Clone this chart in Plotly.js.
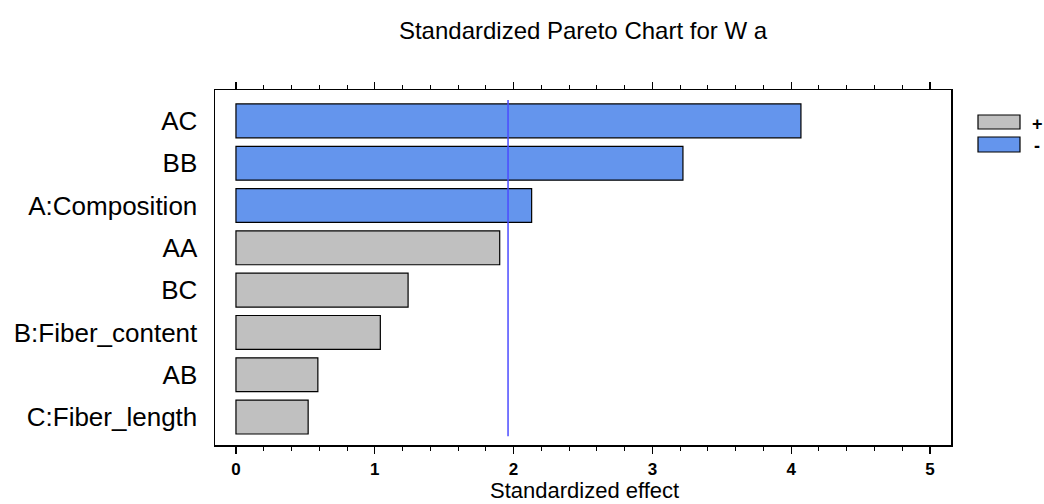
<!DOCTYPE html>
<html>
<head>
<meta charset="utf-8">
<script src="https://cdn.plot.ly/plotly-3.0.1.min.js"></script>
<style>html,body{margin:0;padding:0;background:#fff;}#chart{width:1044px;height:504px;}</style>
</head>
<body>
<div id="chart"></div>
<script>
// Effects, top to bottom
const categories = ["AC", "BB", "A:Composition", "AA", "BC", "B:Fiber_content", "AB", "C:Fiber_length"];
const effects = [4.07, 3.22, 2.13, 1.90, 1.24, 1.04, 0.59, 0.52];
const signs = ["-", "-", "-", "+", "+", "+", "+", "+"];
const criticalValue = 1.96;
const xTicks = [0, 1, 2, 3, 4, 5];
const xTitle = "Standardized effect";

const colorPos = "#C0C0C0";
const colorNeg = "#6495ED";

const traces = ["+", "-"].map(s => {
  const idx = categories.map((c, i) => i).filter(i => signs[i] === s);
  return {
    type: "bar",
    orientation: "h",
    name: s,
    y: idx.map(i => categories[i]),
    x: idx.map(i => effects[i]),
    width: 0.8,
    marker: {color: s === "+" ? colorPos : colorNeg, line: {color: "#000", width: 1.2}},
    showlegend: false,
    hoverinfo: "x+y"
  };
});

const pw = 736, ph = 355;
const px = v => (v - 215) / pw;
const py = v => (445 - v) / ph;
const sans = "Liberation Sans, Arial, sans-serif";

const layout = {
  width: 1044, height: 504,
  margin: {l: 215, r: 93, t: 90, b: 59},
  paper_bgcolor: "#fff", plot_bgcolor: "#fff",
  barmode: "overlay",
  title: {text: "Standardized Pareto Chart for W a", x: px(583), xref: "paper", xanchor: "center", y: 1 - 31/504, yanchor: "middle",
    font: {family: sans, size: 24, color: "#000"}},
  xaxis: {
    range: [-0.151, 5.151], tickvals: xTicks, ticktext: xTicks.map(String),
    ticks: "outside", ticklen: 7, tickwidth: 1.2, tickcolor: "#000",
    minor: {dtick: 0.2, tick0: 0, ticks: "outside", ticklen: 4, tickwidth: 1, tickcolor: "#000"},
    showline: true, linecolor: "#000", linewidth: 1.5, mirror: "allticks",
    showgrid: false, zeroline: false, ticklabelstandoff: 1,
    tickfont: {family: sans, size: 17, color: "#000", weight: "bold"},
    title: {text: ""}
  },
  yaxis: {
    type: "category", categoryorder: "array", categoryarray: categories,
    range: [7.66, -0.73],
    showline: true, linecolor: "#000", linewidth: 1.5, mirror: true,
    ticks: "", showgrid: false, zeroline: false, ticklabelstandoff: 11,
    tickfont: {family: sans, size: 26, color: "#000"}
  },
  shapes: [
    {type: "line", xref: "x", yref: "paper", x0: criticalValue, x1: criticalValue, y0: 0.025, y1: 0.972,
     line: {color: "#4B4BFF", width: 1.5}, layer: "above"},
    {type: "rect", xref: "paper", yref: "paper", x0: px(978), x1: px(1020), y0: py(129), y1: py(115),
     fillcolor: colorPos, line: {color: "#000", width: 1.2}},
    {type: "rect", xref: "paper", yref: "paper", x0: px(978), x1: px(1020), y0: py(152), y1: py(137),
     fillcolor: colorNeg, line: {color: "#000", width: 1.2}}
  ],
  annotations: [
    {xref: "paper", yref: "paper", x: px(584), y: py(490), text: xTitle, showarrow: false, xanchor: "center", yanchor: "middle",
     font: {family: sans, size: 22, color: "#000"}},
    {xref: "paper", yref: "paper", x: px(1030), y: py(124), text: "<b>+</b>", showarrow: false, xanchor: "left", yanchor: "middle",
     font: {family: sans, size: 18, color: "#000"}},
    {xref: "paper", yref: "paper", x: px(1032), y: py(146), text: "<b>-</b>", showarrow: false, xanchor: "left", yanchor: "middle",
     font: {family: sans, size: 18, color: "#000"}}
  ]
};

Plotly.newPlot("chart", traces, layout, {displayModeBar: false, staticPlot: true});
</script>
</body>
</html>
